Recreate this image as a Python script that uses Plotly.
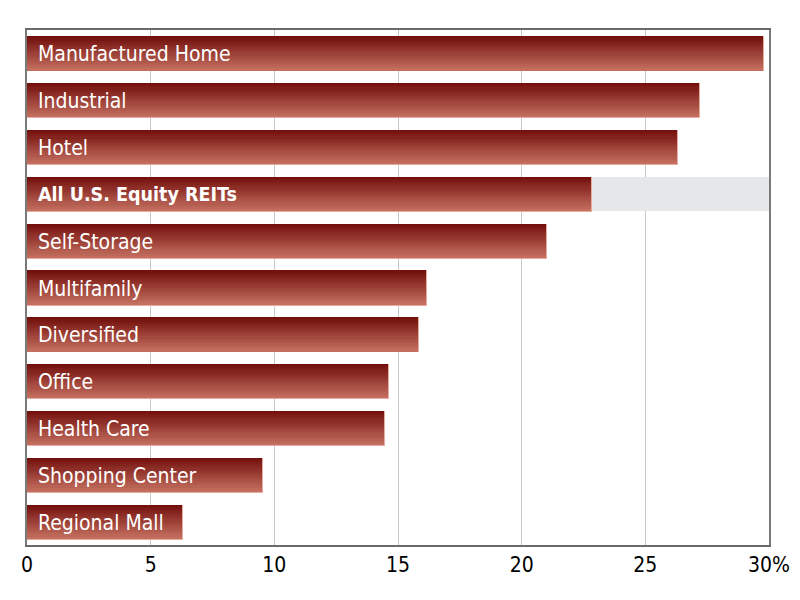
import plotly.graph_objects as go

categories = ["Manufactured Home", "Industrial", "Hotel", "All U.S. Equity REITs",
              "Self-Storage", "Multifamily", "Diversified", "Office", "Health Care",
              "Shopping Center", "Regional Mall"]
values = [29.75, 27.15, 26.3, 22.8, 21.0, 16.15, 15.8, 14.6, 14.45, 9.5, 6.25]
highlight = ["All U.S. Equity REITs"]
axis_max = 30
tick_vals = [0, 5, 10, 15, 20, 25, 30]
tick_text = ["0", "5", "10", "15", "20", "25", "30%"]

FONT = "Liberation Sans Narrow, DejaVu Sans Condensed, Roboto, sans-serif"
BAR_W = 0.73
N = 16
top_c = (116, 17, 14)
bot_c = (195, 110, 94)
edge_c = (232, 172, 160)

fig = go.Figure()

# highlight band
fig.add_trace(go.Bar(
    y=highlight, x=[axis_max] * len(highlight), orientation="h",
    width=BAR_W, marker=dict(color="#e6e7e8", line=dict(width=0)),
    hoverinfo="skip", showlegend=False))

# light edge under bars (slightly larger)
fig.add_trace(go.Bar(
    y=categories, x=[v + 0.04 for v in values], orientation="h",
    width=BAR_W + 0.02, offset=-BAR_W / 2,
    marker=dict(color="rgb(%d,%d,%d)" % edge_c, line=dict(width=0)),
    hoverinfo="skip", showlegend=False))

# gradient slices
sw = BAR_W / N
for k in range(N):
    t = k / (N - 1)
    c = tuple(int(round(top_c[i] + (bot_c[i] - top_c[i]) * t)) for i in range(3))
    fig.add_trace(go.Bar(
        y=categories, x=values, orientation="h",
        width=sw * 1.05, offset=-BAR_W / 2 + k * sw,
        marker=dict(color="rgb(%d,%d,%d)" % c, line=dict(width=0)),
        hoverinfo="skip", showlegend=False))

for cat in categories:
    bold = cat in highlight
    fig.add_annotation(
        x=0, y=cat, xref="x", yref="y", xanchor="left", yanchor="middle",
        xshift=9, yshift=-1, showarrow=False,
        text=("<b>%s</b>" % cat) if bold else cat,
        font=dict(family=FONT, size=19.5 if bold else 21, color="white"))

fig.update_layout(
    width=800, height=600,
    margin=dict(l=19, r=39, t=22, b=63),
    paper_bgcolor="white", plot_bgcolor="white",
    barmode="overlay", bargap=0,
    font=dict(family=FONT, size=21, color="black"),
)
fig.update_xaxes(
    range=[0, axis_max], tickvals=tick_vals, ticktext=tick_text,
    showgrid=True, gridcolor="#c8c8c8", gridwidth=1,
    showline=True, linecolor="#6a6a6a", linewidth=2, mirror=True,
    ticks="", zeroline=False, automargin=False,
    tickfont=dict(family=FONT, size=21, color="black"))
fig.update_yaxes(
    categoryorder="array", categoryarray=categories,
    autorange="reversed", showticklabels=False, showgrid=False, automargin=False,
    showline=True, linecolor="#7a7a7a", linewidth=2, mirror=True, ticks="")

fig.write_html("out.html")
